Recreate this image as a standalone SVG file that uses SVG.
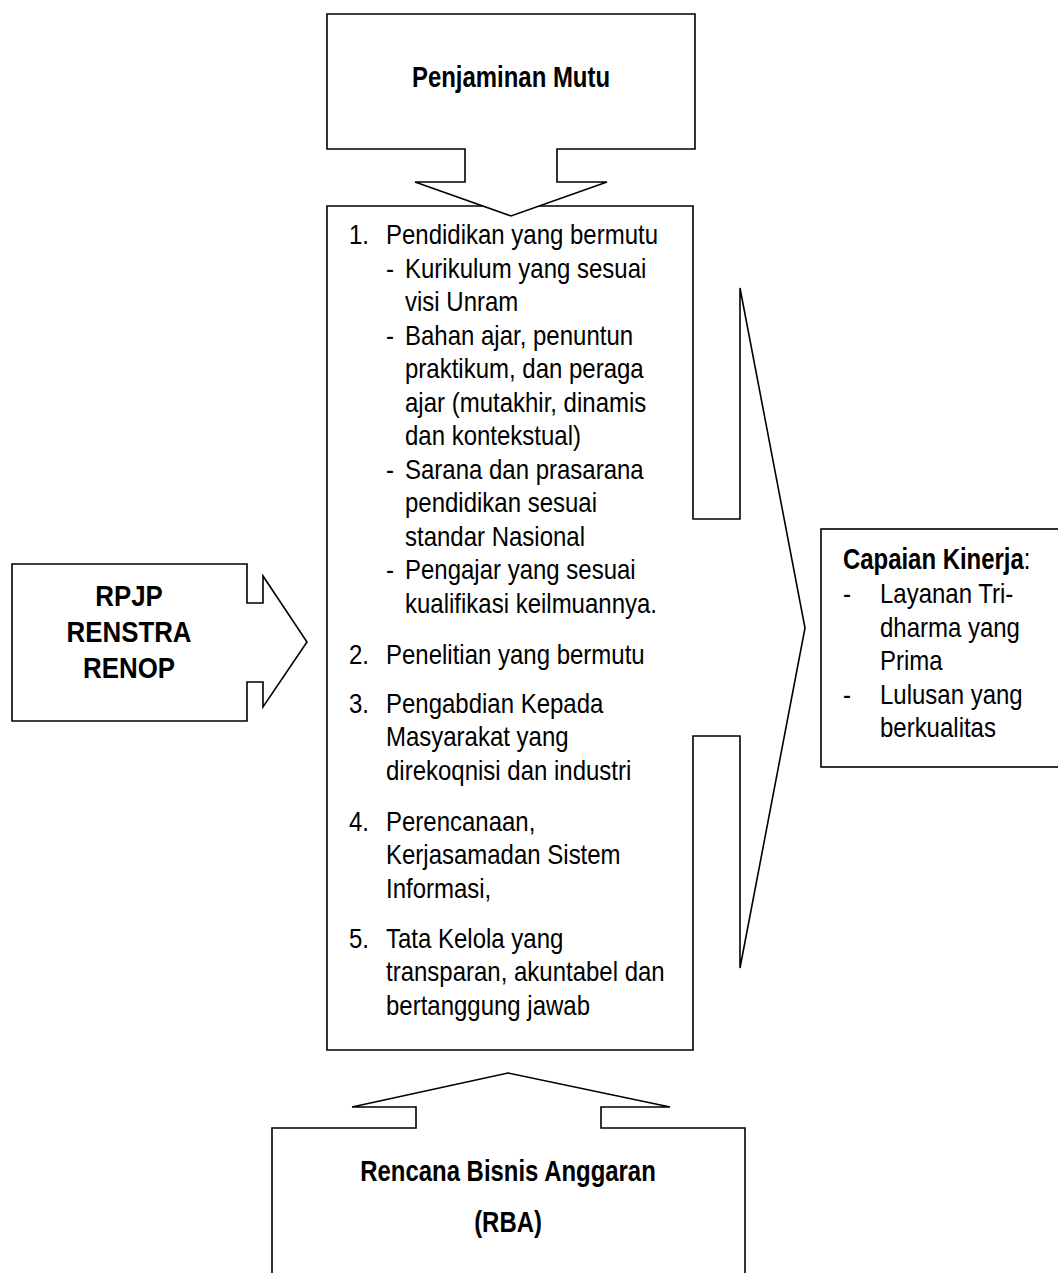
<svg xmlns="http://www.w3.org/2000/svg" width="1058" height="1273" viewBox="0 0 1058 1273">
<style>
.shape{fill:#fff;stroke:#000;stroke-width:1.6;stroke-linejoin:miter}
.t{font-family:"Liberation Sans",Arial,sans-serif;font-size:29px;fill:#000}
.r{font-family:"Liberation Sans",Arial,sans-serif;font-size:28px;fill:#000}
.b{font-weight:bold}
.n{font-weight:normal}
.c{text-anchor:middle}
</style>
<rect width="1058" height="1273" fill="#fff"/>
<g id="connectors"></g>
<g id="program">
<polygon class="shape" points="327,206 693,206 693,519 740,519 740,288 805,628 740,968 740,736 693,736 693,1050 327,1050"/>
<g class="r" transform="scale(0.857,1)">
<text x="407.2" y="244">1.</text><text x="450.4" y="244">Pendidikan yang bermutu</text>
<text x="450.4" y="278">-</text><text x="472.6" y="278">Kurikulum yang sesuai</text>
<text x="472.6" y="311">visi Unram</text>
<text x="450.4" y="345">-</text><text x="472.6" y="345">Bahan ajar, penuntun</text>
<text x="472.6" y="378">praktikum, dan peraga</text>
<text x="472.6" y="412">ajar (mutakhir, dinamis</text>
<text x="472.6" y="445">dan kontekstual)</text>
<text x="450.4" y="479">-</text><text x="472.6" y="479">Sarana dan prasarana</text>
<text x="472.6" y="512">pendidikan sesuai</text>
<text x="472.6" y="546">standar Nasional</text>
<text x="450.4" y="579">-</text><text x="472.6" y="579">Pengajar yang sesuai</text>
<text x="472.6" y="613">kualifikasi keilmuannya.</text>
<text x="407.2" y="664">2.</text><text x="450.4" y="664">Penelitian yang bermutu</text>
<text x="407.2" y="713">3.</text><text x="450.4" y="713">Pengabdian Kepada</text>
<text x="450.4" y="746">Masyarakat yang</text>
<text x="450.4" y="780">direkoqnisi dan industri</text>
<text x="407.2" y="831">4.</text><text x="450.4" y="831">Perencanaan,</text>
<text x="450.4" y="864">Kerjasamadan Sistem</text>
<text x="450.4" y="898">Informasi,</text>
<text x="407.2" y="948">5.</text><text x="450.4" y="948">Tata Kelola yang</text>
<text x="450.4" y="981">transparan, akuntabel dan</text>
<text x="450.4" y="1015">bertanggung jawab</text>
</g>
</g>
<g id="penjaminan-mutu">
<polygon class="shape" points="327,14 695,14 695,149 557,149 557,182 607,182 511,216 415,182 465,182 465,149 327,149"/>
<text class="t b c" transform="scale(0.825,1)" x="619.4" y="87">Penjaminan Mutu</text>
</g>
<g id="rpjp">
<polygon class="shape" points="12,564 247,564 247,603 263,603 263,576 307,642 263,707 263,682 247,682 247,721 12,721"/>
<g class="t b c" transform="scale(0.862,1)" style="font-size:30px">
<text x="149.7" y="606">RPJP</text>
<text x="149.7" y="642">RENSTRA</text>
<text x="149.7" y="678">RENOP</text>
</g>
</g>
<g id="capaian-kinerja">
<rect class="shape" x="821" y="529" width="245" height="238"/>
<text class="t" transform="scale(0.825,1)" x="1021.8" y="569"><tspan class="b">Capaian Kinerja</tspan><tspan class="n">:</tspan></text>
<g class="r" transform="scale(0.857,1)">
<text x="983.7" y="603">-</text><text x="1026.8" y="603">Layanan Tri-</text>
<text x="1026.8" y="637">dharma yang</text>
<text x="1026.8" y="670">Prima</text>
<text x="983.7" y="704">-</text><text x="1026.8" y="704">Lulusan yang</text>
<text x="1026.8" y="737">berkualitas</text>
</g>
</g>
<g id="rba">
<polygon class="shape" points="272,1280 272,1128 416,1128 416,1107 352,1107 508,1073 670,1107 601,1107 601,1128 745,1128 745,1280"/>
<g class="t b c" transform="scale(0.825,1)">
<text x="615.8" y="1181">Rencana Bisnis Anggaran</text>
<text x="615.8" y="1232">(RBA)</text>
</g>
</g>
</svg>
